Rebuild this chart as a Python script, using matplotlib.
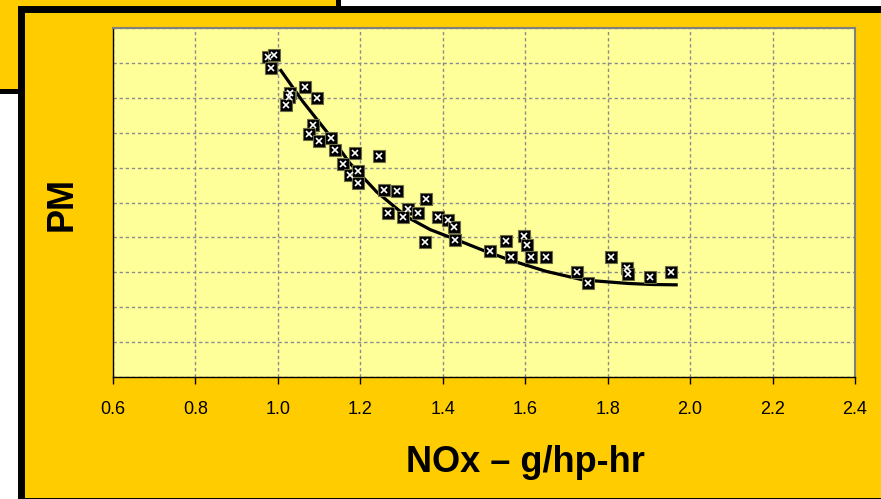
import numpy as np
import matplotlib.pyplot as plt
from matplotlib.patches import Rectangle

plt.rcParams["font.family"] = ["Liberation Sans", "DejaVu Sans"]

# NOx (g/hp-hr) vs PM test points
nox = [0.977, 0.991, 0.983, 1.066, 1.029, 1.028, 1.020, 1.096, 1.084, 1.075,
       1.100, 1.129, 1.139, 1.187, 1.245, 1.159, 1.175, 1.194, 1.194, 1.258,
       1.288, 1.359, 1.315, 1.268, 1.341, 1.304, 1.389, 1.412, 1.428, 1.357,
       1.430, 1.553, 1.597, 1.604, 1.515, 1.565, 1.614, 1.650, 1.725, 1.753,
       1.808, 1.848, 1.850, 1.903, 1.953]
pm = [9.18, 9.23, 8.86, 8.31, 8.15, 8.01, 7.79, 8.00, 7.21, 6.95,
      6.76, 6.86, 6.50, 6.41, 6.34, 6.10, 5.79, 5.90, 5.55, 5.36,
      5.34, 5.09, 4.81, 4.69, 4.69, 4.59, 4.59, 4.50, 4.31, 3.86,
      3.93, 3.91, 4.05, 3.78, 3.61, 3.45, 3.43, 3.45, 3.02, 2.68,
      3.43, 3.11, 2.95, 2.87, 3.00]

# trend line
trend_nox = [1.005, 1.06, 1.131, 1.175, 1.24, 1.3125, 1.37, 1.434, 1.50,
             1.563, 1.65, 1.741, 1.85, 1.91, 1.97]
trend_pm = [8.82, 7.90, 6.84, 6.12, 5.30, 4.59, 4.22, 3.93, 3.62,
            3.35, 3.03, 2.78, 2.68, 2.65, 2.64]

x_ticks = [0.6, 0.8, 1.0, 1.2, 1.4, 1.6, 1.8, 2.0, 2.2, 2.4]

card = "#FFCC00"
plot_bg = "#FFFF99"

W, H = 881, 499
fig = plt.figure(figsize=(W/100, H/100), dpi=100)
fig.patch.set_facecolor("white")


def px_rect(x0, y0, x1, y1, **kw):
    # rectangle given in pixel coords measured from the top-left corner
    return Rectangle((x0/W, 1-y1/H), (x1-x0)/W, (y1-y0)/H,
                     transform=fig.transFigure, zorder=-1, **kw)


# card behind, then the main card
fig.add_artist(px_rect(-20, -20, 337.5, 90.5, facecolor=card,
                       edgecolor="black", linewidth=3.6))
fig.add_artist(px_rect(20.5, 8.5, 920, 500.5, facecolor=card,
                       edgecolor="black", linewidth=5))

ax = fig.add_axes([113/W, 1-377/H, 742/W, 349/H])
ax.set_facecolor(plot_bg)

ax.plot(trend_nox, trend_pm, color="black", linewidth=2.3,
        solid_joinstyle="round", solid_capstyle="butt", zorder=3)

ax.plot(nox, pm, linestyle="none", marker="s", markersize=8,
        markerfacecolor="black", markeredgecolor="#6b6b45",
        markeredgewidth=0.8, zorder=4)
ax.plot(nox, pm, linestyle="none", marker="x", markersize=4.5,
        markeredgecolor="white", markeredgewidth=1.2, zorder=5)

ax.set_xlim(0.6, 2.4)
ax.set_ylim(0, 10)
ax.set_xticks(x_ticks)
ax.set_xticklabels([f"{t:.1f}" for t in x_ticks], fontsize=13)
ax.set_yticks(np.arange(0, 11, 1))
ax.tick_params(axis="y", length=0, labelleft=False)
ax.tick_params(axis="x", direction="out", length=5, width=1, color="black",
               pad=12)
ax.grid(True, color="#8c8c8c", linestyle=(0, (2.4, 2)), linewidth=1)

for side in ["left", "bottom"]:
    ax.spines[side].set_color("black")
    ax.spines[side].set_linewidth(1)
for side in ["top", "right"]:
    ax.spines[side].set_color("#808080")
    ax.spines[side].set_linewidth(1.5)

fig.text(525/W, 1-463/H, "NOx \u2013 g/hp-hr", fontsize=26, fontweight="bold",
         ha="center", va="center")
fig.text(62/W, 1-204/H, "PM", fontsize=26, fontweight="bold",
         ha="center", va="center", rotation=90)

fig.savefig("out.png", dpi=100, facecolor=fig.get_facecolor())
